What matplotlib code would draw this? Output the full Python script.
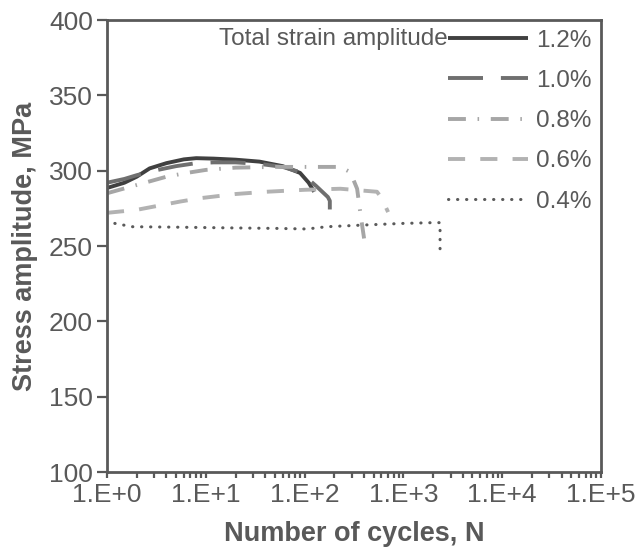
import matplotlib
matplotlib.use("Agg")
import matplotlib.pyplot as plt
from matplotlib.ticker import LogLocator, FixedLocator, NullFormatter

plt.rcParams["font.family"] = ["Liberation Sans", "DejaVu Sans"]

# --- data (cycles N, stress amplitude MPa) ---
n_12 = [1, 1.5, 2, 2.7, 4, 6, 8, 12, 20, 35, 60, 90, 110, 125]
s_12 = [288.5, 292, 296, 301.5, 305, 307.5, 308.3, 308, 307.3, 306, 303, 298.5, 292, 286]

n_10 = [1, 1.5, 2, 3, 5, 8, 12, 20, 35, 60, 90, 130, 172, 180, 180]
s_10 = [292, 294.5, 297, 300, 303, 305, 305.5, 305.5, 304.5, 302.5, 299, 290, 282.5, 280, 264]

n_08 = [1, 2, 4, 6.4, 10, 20, 50, 100, 230, 290, 340, 370, 400]
s_08 = [285, 290.5, 296, 298.5, 300.5, 302, 302.5, 302.5, 302.5, 299, 288, 270, 255]

n_06 = [1, 2, 5.5, 8.7, 20, 41, 100, 230, 540, 600, 700]
s_06 = [272, 274, 279.5, 281.7, 284.5, 286, 287.3, 288, 286, 282, 272.5]

n_04 = [1.2, 1.8, 5, 18.8, 50, 106, 168, 425, 1000, 2000, 2350, 2350]
s_04 = [265, 262.8, 262.5, 262, 261.7, 261.3, 262.8, 264, 265, 265.5, 265.5, 247]

labels = ["1.2%", "1.0%", "0.8%", "0.6%", "0.4%"]
legend_title = "Total strain amplitude"
x_ticks = [1e0, 1e1, 1e2, 1e3, 1e4, 1e5]
x_ticklabels = ["1.E+0", "1.E+1", "1.E+2", "1.E+3", "1.E+4", "1.E+5"]
y_ticks = [100, 150, 200, 250, 300, 350, 400]

text_color = "#595959"

fig = plt.figure(figsize=(6.4, 5.52), dpi=100)
ax = fig.add_axes([107 / 640, 80 / 552, 494 / 640, 452 / 552])

lw = 2.8
ax.plot(n_12, s_12, color="#404040", lw=lw, solid_capstyle="butt", label=labels[0])
ax.plot(n_10, s_10, color="#6f6f6f", lw=lw, dashes=(9, 4.6), label=labels[1])
ax.plot(n_08, s_08, color="#a6a6a6", lw=lw, dashes=(4.6, 3, 0.4, 3), label=labels[2])
ax.plot(n_06, s_06, color="#b2b2b2", lw=lw, dashes=(4.4, 3.9), label=labels[3])
ax.plot(n_04, s_04, color="#5a5a5a", lw=2.2, dashes=(0.1, 2.85),
        dash_capstyle="round", label=labels[4])

ax.set_xscale("log")
ax.set_xlim(1, 1e5)
ax.set_ylim(100, 400)
ax.xaxis.set_major_locator(FixedLocator(x_ticks))
ax.set_xticklabels(x_ticklabels)
ax.xaxis.set_minor_locator(LogLocator(base=10, subs=range(2, 10), numticks=20))
ax.xaxis.set_minor_formatter(NullFormatter())
ax.set_yticks(y_ticks)

ax.tick_params(axis="x", which="both", direction="out", length=4, width=1.6,
               colors=text_color, labelsize=19, pad=4)
ax.tick_params(axis="y", which="major", direction="out", length=7, width=1.6,
               colors=text_color, labelsize=19, pad=3)
for sp in ax.spines.values():
    sp.set_color(text_color)
    sp.set_linewidth(2.0)

ax.set_xlabel("Number of cycles, N", fontsize=19.5, fontweight="bold",
              color=text_color, labelpad=10)
ax.set_ylabel("Stress amplitude, MPa", fontsize=19.5, fontweight="bold",
              color=text_color, labelpad=8)

leg = ax.legend(loc="upper right", bbox_to_anchor=(1.0, 1.0), frameon=False,
                fontsize=17.5, handlelength=3.3, handletextpad=0.33,
                labelspacing=0.75, borderaxespad=0.1, borderpad=0.3)
for t in leg.get_texts():
    t.set_color(text_color)

ax.text(0.69, 0.958, legend_title, transform=ax.transAxes, ha="right",
        va="center", fontsize=17.5, color=text_color)

fig.savefig("out.png", dpi=100)
